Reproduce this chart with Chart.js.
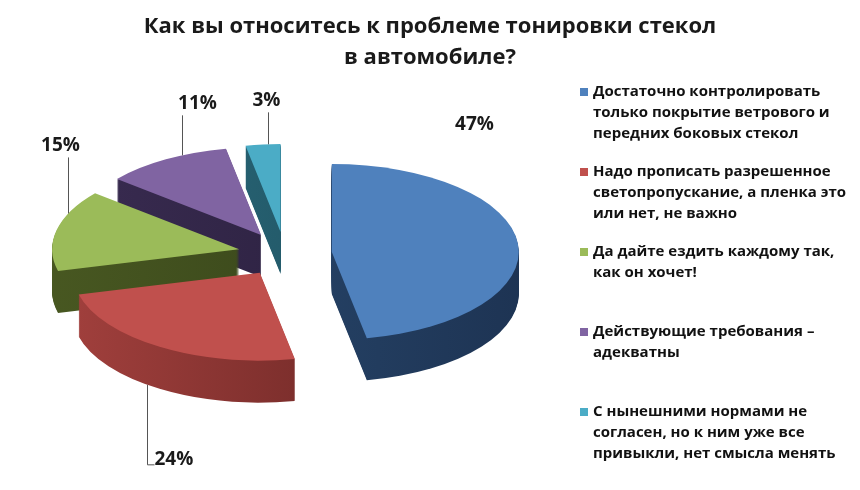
<!DOCTYPE html>
<html>
<head>
<meta charset="utf-8">
<script src="https://cdn.jsdelivr.net/npm/chart.js@4/dist/chart.umd.min.js"></script>
<style>
  html, body { margin: 0; padding: 0; background: #fff; }
  #wrap { width: 860px; height: 490px; }
</style>
</head>
<body>
<div id="wrap"><canvas id="PieChart"></canvas></div>
<script>
// answers (legend text, one array per answer, split into lines)
const categories = [
  ["Достаточно контролировать", "только покрытие ветрового и", "передних боковых стекол"],
  ["Надо прописать разрешенное", "светопропускание, а пленка это", "или нет, не важно"],
  ["Да дайте ездить каждому так,", "как он хочет!"],
  ["Действующие требования –", "адекватны"],
  ["С нынешними нормами не", "согласен, но к ним уже все", "привыкли, нет смысла менять"],
];
const shares = [47, 24, 15, 11, 3];
const shareLabels = ["47%", "24%", "15%", "11%", "3%"];
const titleLines = ["Как вы относитесь к проблеме тонировки стекол", "в автомобиле?"];

const topColors = ["#4F81BD", "#C0504D", "#9BBB59", "#8064A2", "#4BACC6"];
const sideColors = [
  ["#28476C", "#1C3150"],
  ["#A4413E", "#6A2624"],
  ["#4A5A22", "#37441A"],
  ["#3A2C52", "#291F3C"],
  ["#2C6C7E", "#1C4C5A"],
];

// where each percentage sits: rim angle (deg, clockwise from top), leader length, text offset
const labelPlacement = [
  { angle: 28, dy: -50, dx: 54, leader: false },
  { angle: 217, dy: 80, dx: 7, leader: true, side: true, align: "left" },
  { angle: 294, dy: -56, dx: -8, leader: true },
  { angle: 335, dy: -40, dx: 15, leader: true },
  { angle: 356, dy: -32, dx: -2, leader: true },
];

const FONT = "'Open Sans', 'Noto Sans', sans-serif";

function midAngle(arc) {
  return (arc.startAngle + arc.endAngle) / 2;
}

const tiltPlugin = {
  id: "tilt",
  beforeDatasetsDraw(chart, args, opts) {
    const ctx = chart.ctx;
    const arcs = chart.getDatasetMeta(0).data;
    // back slices first, front slices last
    const order = arcs.map((a, i) => i)
      .sort((i, j) => Math.sin(midAngle(arcs[i])) - Math.sin(midAngle(arcs[j])));

    order.forEach((i) => {
      const arc = arcs[i];
      const m = midAngle(arc);
      const ex = Math.cos(m) * opts.explode;
      const ey = Math.sin(m) * opts.explode;
      const R = arc.outerRadius;
      const saved = arc.options;

      for (let d = opts.depth; d >= 0; d--) {
        ctx.save();
        ctx.translate(0, opts.centerY + d);
        ctx.scale(1, opts.squash);
        ctx.translate(ex, ey - arc.y);
        if (d > 0) {
          const g = ctx.createLinearGradient(arc.x + ex - R, 0, arc.x + ex + R, 0);
          g.addColorStop(0, sideColors[i][0]);
          g.addColorStop(1, sideColors[i][1]);
          arc.options = Object.assign({}, saved, { backgroundColor: g, borderWidth: 0 });
        } else {
          arc.options = saved;
        }
        arc.draw(ctx);
        ctx.restore();
      }
      arc.options = saved;
    });
    return false;
  },
  afterDraw(chart, args, opts) {
    const ctx = chart.ctx;
    const arcs = chart.getDatasetMeta(0).data;

    // title
    ctx.save();
    ctx.font = "bold 22px " + FONT;
    ctx.fillStyle = "#1a1a1a";
    ctx.textAlign = "center";
    ctx.textBaseline = "middle";
    titleLines.forEach((line, j) => {
      ctx.fillText(line, chart.width / 2, 27 + j * 31);
    });
    ctx.restore();

    // percentage labels with leader lines
    ctx.save();
    ctx.font = "bold 19px " + FONT;
    ctx.fillStyle = "#1a1a1a";
    ctx.strokeStyle = "#555";
    ctx.lineWidth = 1;
    arcs.forEach((arc, i) => {
      const p = labelPlacement[i];
      const m = midAngle(arc);
      const t = (p.angle - 90) * Math.PI / 180;
      const px = arc.x + Math.cos(m) * opts.explode + arc.outerRadius * Math.cos(t);
      const py = Math.sin(m) * opts.explode + arc.outerRadius * Math.sin(t);
      const ax = Math.round(px) + 0.5;
      const ay = opts.centerY + py * opts.squash + (p.side ? opts.depth : 0);
      const ly = ay + p.dy;
      if (p.leader) {
        ctx.beginPath();
        ctx.moveTo(ax, ay);
        ctx.lineTo(ax, ly);
        if (p.align === "left") ctx.lineTo(ax + p.dx, ly);
        ctx.stroke();
      }
      if (p.align === "left") {
        ctx.textAlign = "left";
        ctx.textBaseline = "middle";
        ctx.fillText(shareLabels[i], ax + p.dx, ly - 5);
      } else {
        ctx.textAlign = "center";
        ctx.textBaseline = p.leader ? "bottom" : "middle";
        ctx.fillText(shareLabels[i], ax + p.dx, ly - (p.leader ? 2 : 0));
      }
    });
    ctx.restore();

    // legend on the right
    ctx.save();
    ctx.font = "bold 15px " + FONT;
    ctx.textAlign = "left";
    ctx.textBaseline = "middle";
    categories.forEach((lines, i) => {
      const y0 = opts.legendTop + i * opts.legendStep;
      ctx.fillStyle = topColors[i];
      ctx.fillRect(opts.legendX, y0 - 4, 8, 8);
      ctx.fillStyle = "#111";
      lines.forEach((line, j) => {
        ctx.fillText(line, opts.legendX + 13, y0 + j * opts.legendLine);
      });
    });
    ctx.restore();
  },
};

document.addEventListener("DOMContentLoaded", function () {
  const ctx = document.getElementById("PieChart").getContext("2d");

  const chartData = {
    labels: categories.map((c) => c.join(" ")),
    datasets: [
      {
        data: shares,
        backgroundColor: topColors,
        borderWidth: 0,
      },
    ],
  };

  const chartOptions = {
    responsive: true,
    maintainAspectRatio: false,
    animation: false,
    rotation: 0,
    layout: {
      padding: { left: 98, right: 388, top: 70, bottom: 0 },
    },
    plugins: {
      legend: { display: false },
      tooltip: { enabled: false },
      title: { display: false },
      tilt: {
        squash: 0.47,
        depth: 42,
        explode: 47,
        centerY: 254,
        legendX: 580,
        legendTop: 92,
        legendStep: 80,
        legendLine: 21,
      },
    },
  };

  new Chart(ctx, {
    type: "pie",
    data: chartData,
    options: chartOptions,
    plugins: [tiltPlugin],
  });
});
</script>
</body>
</html>
